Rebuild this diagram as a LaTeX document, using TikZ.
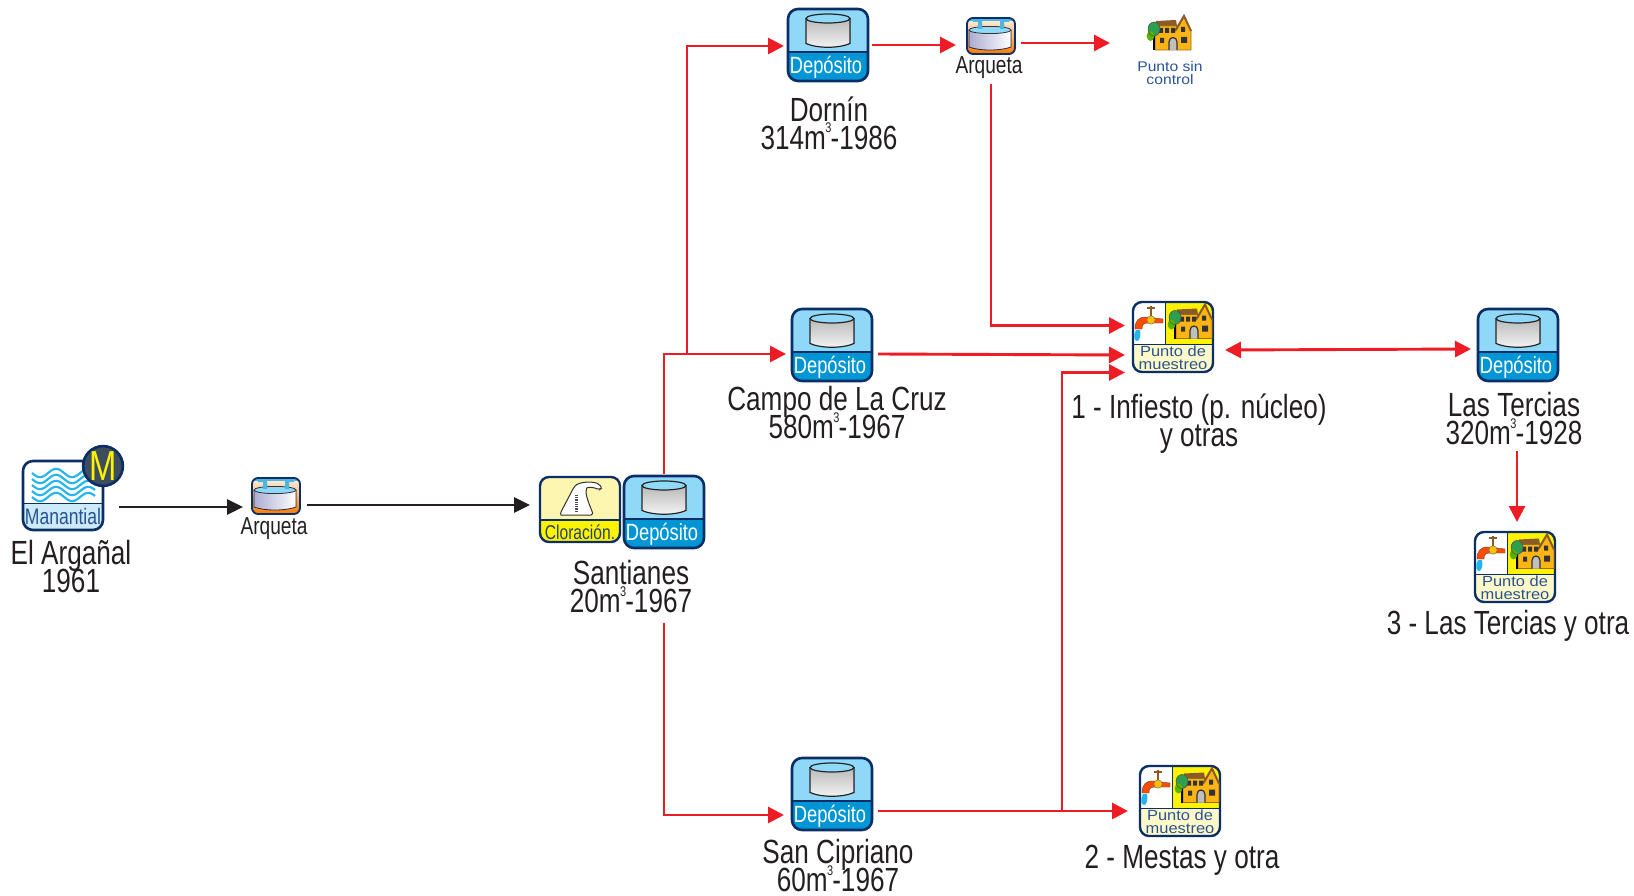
\documentclass[tikz,border=0pt]{standalone}
\usepackage{fontspec}
\setmainfont{Liberation Sans}
\newfontfamily\cond[FakeStretch=0.78]{Liberation Sans}
\newfontfamily\wide[FakeStretch=1.12]{Liberation Sans}
\usetikzlibrary{arrows.meta,calc}
\AtBeginDocument{\lineskiplimit=-100pt\relax\normallineskiplimit=-100pt\relax}
\definecolor{navy}{HTML}{0B2E66}
\definecolor{skyb}{HTML}{8FD8F8}
\definecolor{bandb}{HTML}{0096D6}
\definecolor{wavec}{HTML}{22B5EE}
\definecolor{redl}{HTML}{EE1C25}
\definecolor{blk}{HTML}{231F20}
\definecolor{txtb}{HTML}{2A5394}
\definecolor{creamy}{HTML}{FDF6B0}
\definecolor{yel}{HTML}{FFF200}
\definecolor{housec}{HTML}{FDB515}
\definecolor{roofc}{HTML}{8A5A2B}
\definecolor{treec}{HTML}{2E9E4F}
\definecolor{slate}{HTML}{3D4D5D}
\newcommand{\cub}{\smash{\raisebox{.5em}{\kern-.5pt\fontsize{14}{14}\selectfont 3\kern-1pt}}}
\tikzset{
  x=1pt,y=-1pt,
  redarrow/.style={draw=redl,line width=2.9pt,-{Triangle[length=16pt,width=16pt]}},
  redboth/.style={draw=redl,line width=2.9pt,{Triangle[length=16pt,width=16pt]}-{Triangle[length=16pt,width=16pt]}},
  blackarrow/.style={draw=blk,line width=2.9pt,-{Triangle[length=16pt,width=15pt]}},
  iconnode/.style={inner sep=0pt,outer sep=0pt,anchor=north west},
  depnode/.style={iconnode,minimum width=82pt,minimum height=74pt},
  arqnode/.style={iconnode,minimum width=50pt,minimum height=38pt},
  clonode/.style={iconnode,minimum width=82pt,minimum height=67pt},
  mannode/.style={iconnode,minimum width=82pt,minimum height=71pt},
  pmnode/.style={iconnode,minimum width=82pt,minimum height=72pt},
  housenode/.style={iconnode,minimum width=44pt,minimum height=36pt},
  biglabel/.style={font=\cond\fontsize{33.5}{28}\selectfont,text=blk,align=center,inner sep=0pt},
  arqlabel/.style={font=\cond\fontsize{24.5}{24}\selectfont,text=blk,inner sep=0pt},
  psclabel/.style={font=\wide\fontsize{14}{13}\selectfont,text=txtb,align=center,inner sep=0pt},
  pics/tankbody/.style={code={
    \fill[top color=gray!55,bottom color=gray!8] (0,0) -- (#1,0) -- (#1,25) .. controls (#1*0.75,30) and (#1*0.25,30) .. (0,25) -- cycle;
    \draw[black!85,line width=1.2pt] (0,0) -- (0,25) .. controls (#1*0.25,30) and (#1*0.75,30) .. (#1,25) -- (#1,0);
    \draw[black!85,fill=skyb,line width=1.2pt] (#1/2,0) ellipse [x radius=#1/2,y radius=4.5];
  }},
  pics/deposito/.style={code={
    \fill[skyb,rounded corners=10pt] (1,1) rectangle (81,73);
    \begin{scope}
      \clip[rounded corners=10pt] (1,1) rectangle (81,73);
      \fill[bandb] (0,44) rectangle (82,74);
    \end{scope}
    \draw[navy,line width=2.6pt,rounded corners=10pt] (1,1) rectangle (81,73);
    \draw[navy,line width=1.2pt] (1,44) -- (81,44);
    \pic at (19,10.5) {tankbody=44};
    \node[font=\cond\fontsize{23.5}{24}\selectfont,text=white,inner sep=0pt] at (39,59.5) {Depósito};
  }},
  pics/arqueta/.style={code={
    \shade[rounded corners=6pt,top color=orange!10,bottom color=orange!95!red] (1,1) rectangle (49,37);
    \begin{scope}
      \clip[rounded corners=6pt] (1,1) rectangle (49,37);
      \fill[bandb!70] (0,1) rectangle (50,4);
    \end{scope}
    \fill[bandb!70] (7,2) rectangle (16,5) (12,3) rectangle (16,12) (34,2) rectangle (43,5) (34,3) rectangle (38,12);
    \fill[left color=blue!30!gray!50,right color=white] (3,13) -- (45,13) -- (45,30) .. controls (35,34) and (13,34) .. (3,30) -- cycle;
    \draw[black!80,line width=.8pt] (3,13) -- (3,30) .. controls (13,34) and (35,34) .. (45,30) -- (45,13);
    \draw[black!80,fill=skyb,line width=.8pt] (24,13) ellipse [x radius=21,y radius=3.6];
    \fill[bandb!70] (12,7) rectangle (16,12) (34,7) rectangle (38,12);
    \draw[navy,line width=1.8pt,rounded corners=6pt] (1,1) rectangle (49,37);
  }},
  pics/cloracion/.style={code={
    \fill[creamy,rounded corners=9pt] (1,1) rectangle (81,66);
    \begin{scope}
      \clip[rounded corners=9pt] (1,1) rectangle (81,66);
      \fill[yel] (0,44) rectangle (82,67);
    \end{scope}
    \draw[navy,line width=2.4pt,rounded corners=9pt] (1,1) rectangle (81,66);
    \draw[navy,line width=1.2pt] (1,44) -- (81,44);
    \draw[black!80,fill=white,line width=1pt,rounded corners=2pt] (24,39) .. controls (21,39) and (22,36) .. (23,34) -- (35,11) .. controls (40,6) and (52,5) .. (60,8) -- (63,12) -- (60,14) .. controls (55,11) and (48,11) .. (47,14) .. controls (47,20) and (50,28) .. (53,35) .. controls (54,38) and (52,39) .. (50,39) -- cycle;
    \draw[black!70,line width=3pt,dash pattern=on .8pt off 1pt] (37,19) -- (37,36);
    \node[font=\cond\fontsize{20}{20}\selectfont,text=txtb!80!black,inner sep=0pt] at (41,56) {Cloración.};
  }},
  pics/casa/.style={code={
    \fill[roofc] (9,6) -- (29,5) -- (30,11) -- (8,11) -- cycle;
    \draw[housec!60!black,fill=housec,line width=.9pt] (8,11) -- (8,35) -- (44,35) -- (44,16) -- (37,1) -- (30,14) -- (30,11) -- cycle;
    \draw[roofc,line width=2pt] (28,16) -- (37,1) -- (44,16);
    \fill[black!80] (12,13) rectangle (16,18) (18,13) rectangle (22,18) (24,13) rectangle (28,18) (13,23) rectangle (17,28) (34,12) rectangle (38,17) (34,22) rectangle (40,28);
    \draw[black!80,fill=gray!50,line width=1.2pt] (22,35) -- (22,27) .. controls (22,21) and (30,21) .. (30,27) -- (30,35);
    \draw[black,line width=1.2pt] (7,20) -- (7,35);
    \fill[treec] (7,14) ellipse [x radius=6,y radius=7];
    \fill[green!50!yellow!70!black] (3.5,21) ellipse [x radius=3.8,y radius=5];
    \draw[black!70,line width=.5pt] (7,14) ellipse [x radius=6,y radius=7];
  }},
  pics/muestreo/.style={code={
    \fill[creamy!70!white,rounded corners=9pt] (1,1) rectangle (81,71);
    \begin{scope}
      \clip[rounded corners=9pt] (1,1) rectangle (81,71);
      \fill[white] (0,0) rectangle (33,43);
      \fill[yel] (33,0) rectangle (82,43);
    \end{scope}
    \draw[navy,line width=1pt] (1,43) -- (81,43);
    \draw[navy,line width=.7pt] (33,1) -- (33,43);
    \draw[navy,line width=2.4pt,rounded corners=9pt] (1,1) rectangle (81,71);
    % faucet
    \fill[wavec] (4,29) .. controls (1,34) and (2,40) .. (5,40) .. controls (8,40) and (9,34) .. (8,29) -- cycle;
    \draw[roofc,line width=1.6pt] (19,5) -- (19,16) (15,7) -- (23,7);
    \fill[orange!60!red,draw=black!70,line width=.4pt] (3,28) .. controls (3,20) and (6,16) .. (14,16) -- (31,18) -- (31,22) -- (16,22) .. controls (11,22) and (10,24) .. (10,28) -- cycle;
    \fill[orange!50!yellow,draw=black!60,line width=.4pt] (19,19) circle [radius=4.2];
    \pic at (36,2.5) {casa};
    \node[font=\wide\fontsize{14.7}{13}\selectfont,text=txtb,align=center,inner sep=0pt] at (41,56.5) {Punto de\\muestreo};
  }},
  pics/manantial/.style={code={
    \fill[white,rounded corners=10pt] (1,1) rectangle (81,70);
    \begin{scope}
      \clip[rounded corners=10pt] (1,1) rectangle (81,70);
      \fill[bandb!20] (0,43) rectangle (82,71);
    \end{scope}
    \draw[navy,line width=1pt] (1,43) -- (81,43);
    \draw[navy,line width=2.6pt,rounded corners=10pt] (1,1) rectangle (81,70);
    \foreach \k in {0,...,4}{
      \draw[wavec,line width=2.1pt] plot[smooth,variable=\t,domain=10:73,samples=40] (\t,{13+6*\k+4.2*sin((\t-10)*11.2)});
    }
    \node[font=\cond\fontsize{22.5}{23}\selectfont,text=txtb,inner sep=0pt] at (41,56.5) {Manantial};
  }},
}
\begin{document}
\begin{tikzpicture}
\useasboundingbox (0,0) rectangle (1634,896);
% icon nodes
\node[mannode] (man) at (22,460) {};
\node[arqnode] (arqA) at (251,477) {};
\node[clonode] (clo) at (539,476) {};
\node[depnode] (sant) at (623,475) {};
\node[depnode] (dor) at (787,8) {};
\node[arqnode] (arqB) at (966,17) {};
\node[housenode] (psc) at (1147,15) {};
\node[depnode] (camp) at (791,308) {};
\node[pmnode] (pmA) at (1132,301) {};
\node[depnode] (ter) at (1477,308) {};
\node[pmnode] (pmC) at (1474,531) {};
\node[depnode] (sci) at (791,757) {};
\node[pmnode] (pmB) at (1139,765) {};
% icon drawings
\pic at (man.north west) {manantial};
\node[circle,draw=navy,line width=2.6pt,fill=slate,minimum size=38pt,inner sep=0pt,text=yel,font=\cond\fontsize{42}{42}\selectfont] (mbadge) at (103,466) {M};
\pic at (arqA.north west) {arqueta};
\pic at (clo.north west) {cloracion};
\pic at (sant.north west) {deposito};
\pic at (dor.north west) {deposito};
\pic at (arqB.north west) {arqueta};
\pic at (psc.north west) {casa};
\pic at (camp.north west) {deposito};
\pic at (pmA.north west) {muestreo};
\pic at (ter.north west) {deposito};
\pic at (pmC.north west) {muestreo};
\pic at (sci.north west) {deposito};
\pic at (pmB.north west) {muestreo};
% labels
\node[biglabel] (lman) at (71,567) {El Argañal\\1961};
\node[arqlabel] (larqA) at (274,529) {Arqueta};
\node[biglabel] (lsant) at (631,587) {Santianes\\20m\cub-1967};
\node[biglabel] (ldor) at (829,123) {Dornín\\314m\cub-1986};
\node[arqlabel] (larqB) at (989,68) {Arqueta};
\node[psclabel] (lpsc) at (1170,72.5) {Punto sin\\control};
\node[biglabel] (lcamp) at (837,413) {Campo de La Cruz\\580m\cub-1967};
\node[biglabel] (lpmA) at (1199,424) {1 - Infiesto (p. núcleo)\\y otras};
\node[biglabel] (lter) at (1514,419) {Las Tercias\\320m\cub-1928};
\node[biglabel] (lpmC) at (1508,626) {3 - Las Tercias y otra};
\node[biglabel] (lsci) at (838,866) {San Cipriano\\60m\cub-1967};
\node[biglabel] (lpmB) at (1182,860) {2 - Mestas y otra};
% connector helpers
\coordinate (jA) at (687,355);
\coordinate (jB) at (1062,811);
\coordinate (sB) at (664,623);
% connectors
\draw[blackarrow] ([xshift=15pt,yshift=-11.5pt]man.east) -- ([xshift=-8pt,yshift=-11pt]arqA.west);
\draw[blackarrow] ([xshift=6pt,yshift=-9pt]arqA.east) -- ([xshift=-9pt,yshift=4.5pt]clo.west);
\draw[redarrow] ([yshift=1pt]sant.north) |- ([xshift=-5pt,yshift=-9pt]camp.west);
\draw[redarrow] (jA) |- ([xshift=-3pt,yshift=-1pt]dor.west);
\draw[redarrow] (sB) |- ([xshift=-7pt,yshift=-21pt]sci.west);
\draw[redarrow] ([xshift=3pt]dor.east) -- ([xshift=-10pt,yshift=-9pt]arqB.west);
\draw[redarrow] ([xshift=5pt,yshift=-7pt]arqB.east) -- ([xshift=-37pt,yshift=-10pt]psc.west);
\draw[redarrow] ([yshift=-29pt]arqB.south) |- ([xshift=-7pt,yshift=11.5pt]pmA.west);
\draw[redarrow] ([xshift=5pt,yshift=-9pt]camp.east) -- ([xshift=-7pt,yshift=-18pt]pmA.west);
\draw[redarrow] ([xshift=5pt,yshift=-17pt]sci.east) -- ([xshift=-11pt,yshift=-10pt]pmB.west);
\draw[redarrow] (jB) |- ([xshift=-7pt,yshift=-35.5pt]pmA.west);
\draw[redboth] ([xshift=11pt,yshift=-13pt]pmA.east) -- ([xshift=-6pt,yshift=-4pt]ter.west);
\draw[redarrow] ([xshift=-1pt,yshift=-69pt]ter.south) -- ([xshift=2pt,yshift=9pt]pmC.north);
\end{tikzpicture}
\end{document}
